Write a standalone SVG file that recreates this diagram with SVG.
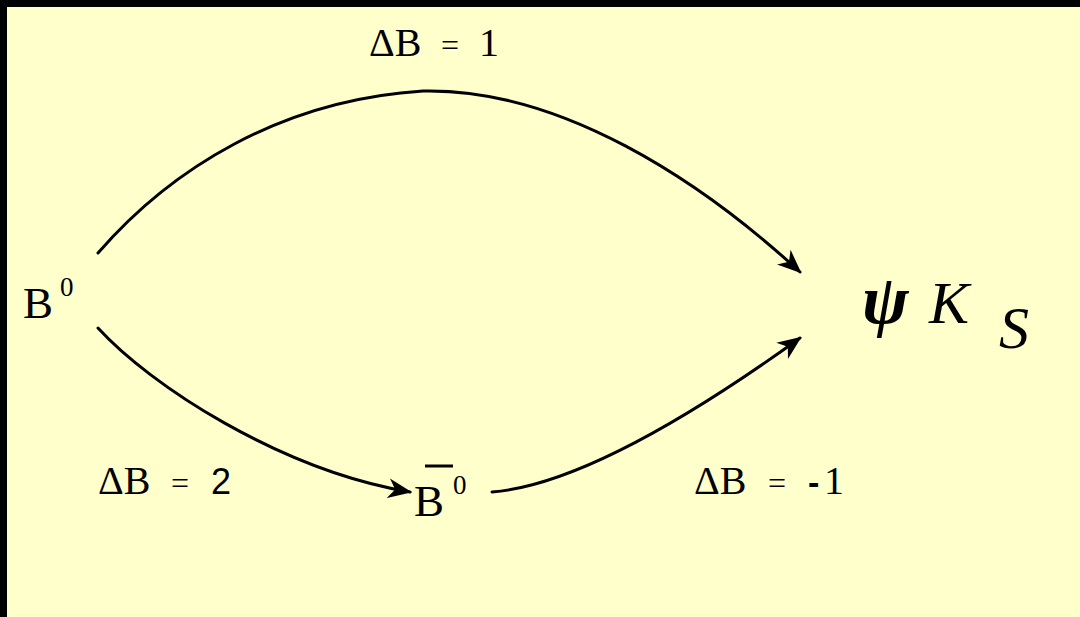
<svg xmlns="http://www.w3.org/2000/svg" width="1080" height="617" viewBox="0 0 1080 617">
<defs>
<style>
.t{font-family:"Liberation Serif","Times New Roman",serif;fill:#000}
.s{font-family:"Liberation Sans",Arial,sans-serif;fill:#000}
.i{font-style:italic}
.c{fill:none;stroke:#000;stroke-width:3;stroke-linecap:round}
</style>
<marker id="ah" viewBox="0 0 12 10" refX="11" refY="5" markerWidth="8" markerHeight="7" markerUnits="strokeWidth" orient="auto">
<path d="M0,0 L12,5 L0,10 L3.5,5 z" fill="#000"/>
</marker>
</defs>
<rect x="0" y="0" width="1080" height="617" fill="#000"/>
<rect x="7" y="7" width="1073" height="610" fill="#FFFFCC"/>
<g id="connectors">
<path class="c" d="M98,253 C170,170 280,100 423,91 C560,88 700,180 800,272" marker-end="url(#ah)"/>
<path class="c" d="M98,328 C150,385 280,470 410,492" marker-end="url(#ah)"/>
<path class="c" d="M492,492 C580,485 700,410 800,338" marker-end="url(#ah)"/>
</g>
<g id="node-B0">
<text class="t" x="23" y="318" font-size="45">B</text>
<text class="t" x="60" y="296" font-size="27">0</text>
</g>
<g id="node-B0bar">
<text class="t" x="414" y="516" font-size="45">B</text>
<line x1="425" y1="466" x2="453" y2="466" stroke="#000" stroke-width="3"/>
<text class="t" x="453" y="494" font-size="27">0</text>
</g>
<g id="node-psiKS">
<text class="t i" x="862" y="323" font-size="70" font-weight="bold">ψ</text>
<text class="t i" x="929" y="323" font-size="60">K</text>
<text class="t i" x="999" y="348" font-size="60">S</text>
</g>
<g id="label-top">
<text class="t" x="369" y="56" font-size="40">ΔB</text>
<text class="t" x="441" y="56" font-size="32">=</text>
<text class="t" x="479" y="56" font-size="40">1</text>
</g>
<g id="label-left">
<text class="t" x="98" y="494" font-size="40">ΔB</text>
<text class="t" x="171" y="494" font-size="32">=</text>
<text class="s" x="211" y="494" font-size="36">2</text>
</g>
<g id="label-right">
<text class="t" x="694" y="494" font-size="40">ΔB</text>
<text class="t" x="768" y="494" font-size="32">=</text>
<text class="s" x="808" y="494" font-size="34" font-weight="bold">-</text>
<text class="t" x="824" y="494" font-size="40">1</text>
</g>
</svg>
